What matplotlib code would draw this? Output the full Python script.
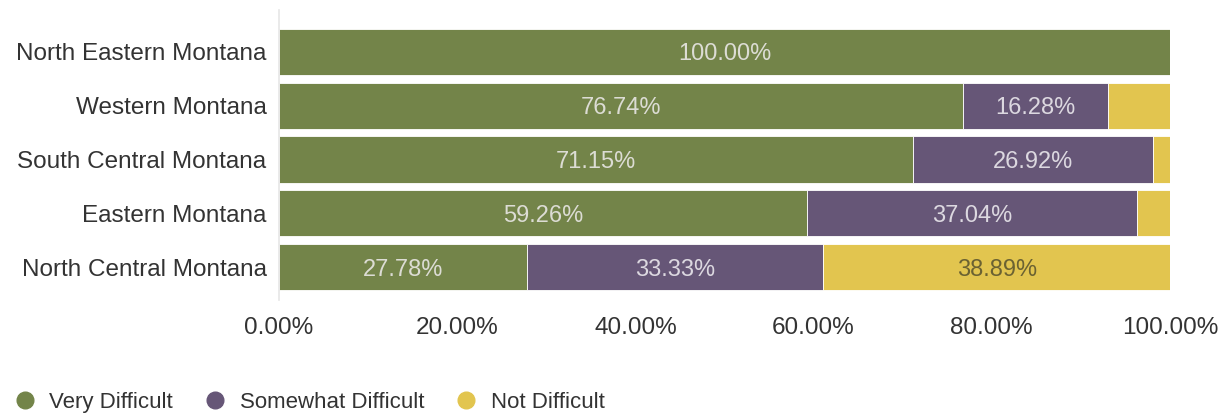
import numpy as np
import matplotlib.pyplot as plt
from matplotlib.ticker import FuncFormatter
from matplotlib.lines import Line2D

plt.rcParams['font.family'] = ['Liberation Sans', 'DejaVu Sans']

regions = ['North Eastern Montana', 'Western Montana', 'South Central Montana',
           'Eastern Montana', 'North Central Montana']
very = [100.00, 76.74, 71.15, 59.26, 27.78]
somewhat = [0.00, 16.28, 26.92, 37.04, 33.33]
not_diff = [0.00, 6.98, 1.92, 3.70, 38.89]

series = ['Very Difficult', 'Somewhat Difficult', 'Not Difficult']
colors = ['#738449', '#665677', '#e2c54f']
text_colors = ['#dcdcd4', '#dcd8e0', '#6b6232']

fig = plt.figure(figsize=(12.26, 4.16), dpi=100)
ax = fig.add_axes([0.2276, 0.279, 0.9543 - 0.2276, 0.976 - 0.279])

y = np.arange(len(regions))
left = np.zeros(len(regions))
for vals, col, tcol in zip([very, somewhat, not_diff], colors, text_colors):
    vals = np.array(vals)
    bars = ax.barh(y, vals, left=left, height=0.86, color=col,
                   edgecolor='white', linewidth=0.6)
    for b, v in zip(bars, vals):
        if v >= 10:
            ax.text(b.get_x() + b.get_width() / 2, b.get_y() + b.get_height() / 2,
                    f'{v:.2f}%', ha='center', va='center_baseline', color=tcol,
                    fontsize=17)
    left += vals

ax.set_xlim(0, 100)
ax.set_ylim(4.61, -0.78)
ax.set_yticks(y)
ax.set_yticklabels(regions, fontsize=17.5, color='#333333')
ax.set_xticks([0, 20, 40, 60, 80, 100])
ax.xaxis.set_major_formatter(FuncFormatter(lambda v, p: f'{v:.2f}%'))
ax.tick_params(axis='x', labelsize=17.5, colors='#333333', length=0, pad=12)
ax.tick_params(axis='y', length=0, pad=9)
for s in ['top', 'right', 'bottom']:
    ax.spines[s].set_visible(False)
ax.spines['left'].set_color('#e6e6e6')
ax.spines['left'].set_linewidth(1.2)

handles = [Line2D([], [], marker='o', linestyle='', markersize=12,
                  markerfacecolor=c, markeredgecolor=c) for c in colors]
fig.legend(handles, series, loc='lower left', bbox_to_anchor=(-0.007, -0.04),
           ncol=3, frameon=False, fontsize=16, handletextpad=0.5,
           handlelength=1.2, columnspacing=1.3, labelcolor='#333333')

fig.savefig('out.png', dpi=100)
